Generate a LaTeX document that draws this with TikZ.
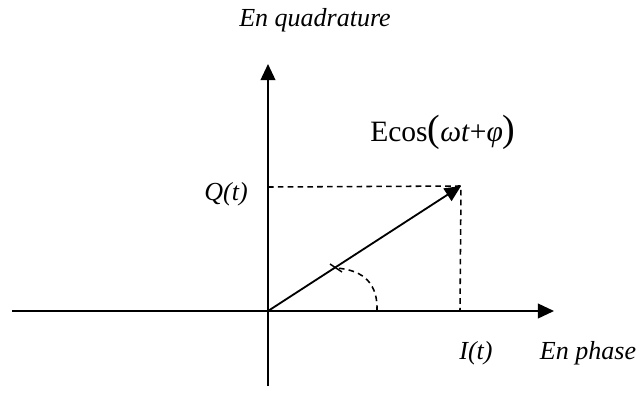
\documentclass[tikz,border=0pt]{standalone}
\usepackage{fontspec}
\setmainfont{Liberation Serif}
\usetikzlibrary{arrows.meta}
\begin{document}
\begin{tikzpicture}[x=0.025cm,y=-0.025cm,>={Triangle[length=11.5pt,width=10.5pt]},
  axis/.style={line width=1.3pt},
  proj/.style={line width=1.1pt,dash pattern=on 4pt off 3pt},
  every node/.style={inner sep=0pt,font=\fontsize{18.5}{22}\selectfont\itshape}]
\useasboundingbox (0,0) rectangle (639,397);
\coordinate (o) at (268,311);
\coordinate (w) at (12,311);
\coordinate (e) at (554,311);
\coordinate (s) at (268,386);
\coordinate (n) at (268,64);
\coordinate (p) at (461,186);
\coordinate (pq) at (268,187);
\coordinate (pi) at (460,311);
\draw[axis,->] (w) -- (e);
\draw[axis,->] (s) -- (n);
\draw[axis,->] (o) -- (p);
\draw[proj] (pq) -- (p) -- (pi);
\draw[proj] (377,311) .. controls (378,285) and (365,270) .. (336,268);
\draw[line width=1pt] (330,264) -- (342,272);
\node (quad) at (315,20) {En quadrature};
\node (signal) [anchor=base west] at (370,141) {\upshape\fontsize{21}{24}\selectfont
  Ecos{\fontsize{27}{30}\selectfont(}\textit{ωt}+\textit{φ}{\fontsize{27}{30}\selectfont)}};
\node (q) at (226,194) {Q(t)};
\node (i) at (476,353) {I(t)};
\node (phase) at (588,353) {En phase};
\end{tikzpicture}
\end{document}
